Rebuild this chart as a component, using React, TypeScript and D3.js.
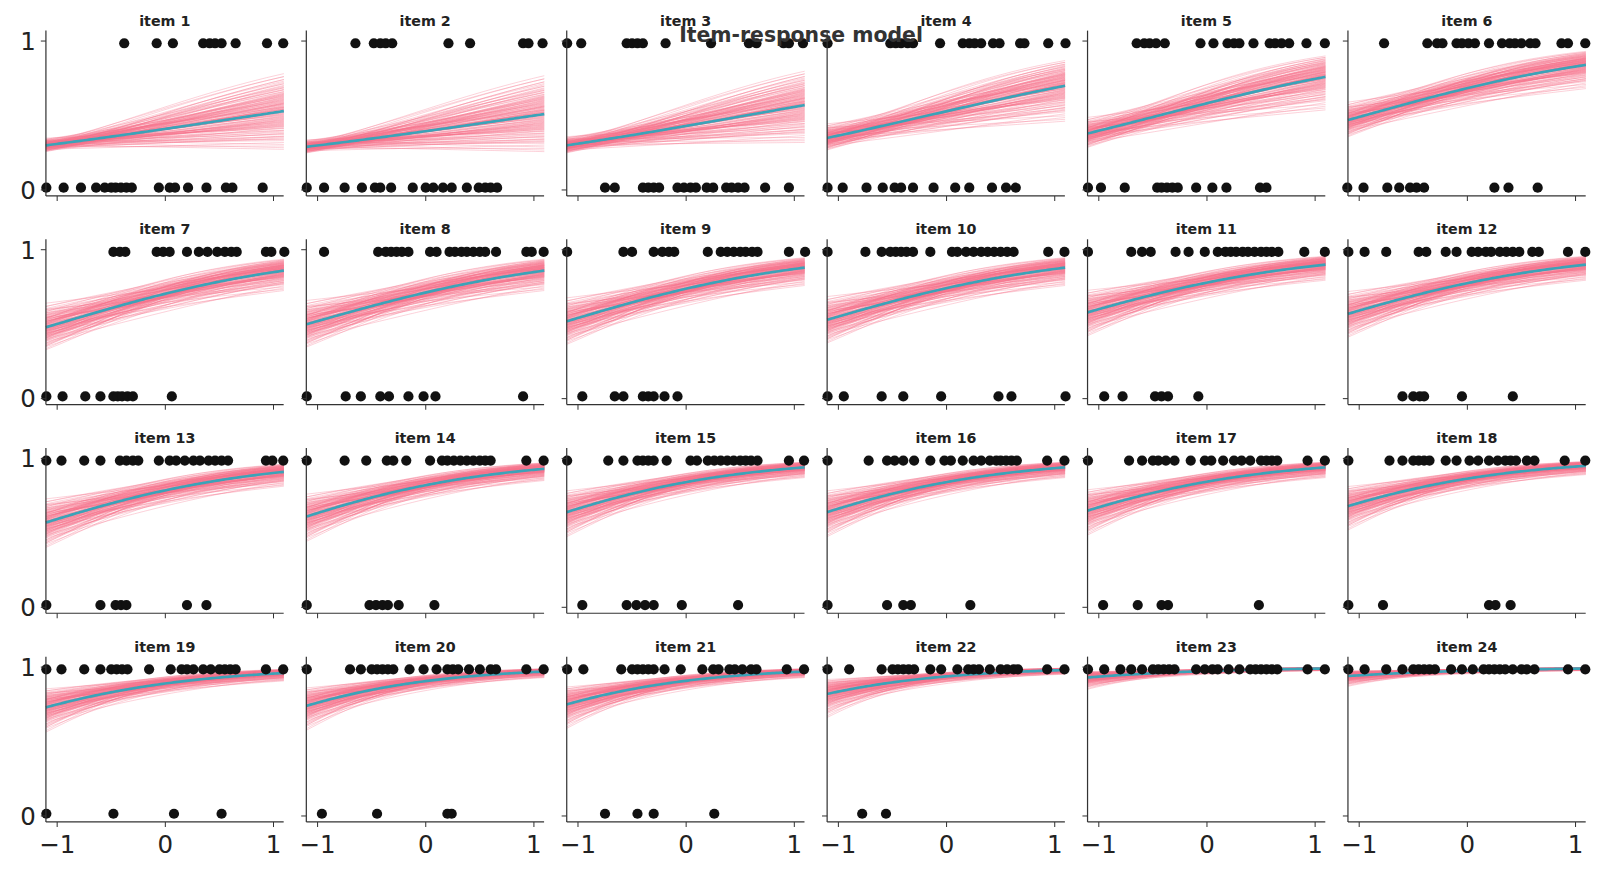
import React, { useEffect } from "react";
import * as d3 from "d3";

const itemNames = Array.from({ length: 24 }, (_, i) => `item ${i + 1}`);
// mean success probability at x=-1.1 and x=1.1, spread (logit sd) at left and right
const meanLeft = [.30,.29,.30,.35,.38,.47,.48,.50,.52,.53,.58,.57,.57,.61,.64,.64,.65,.68,.73,.74,.75,.82,.93,.94];
const meanRight = [.53,.51,.57,.70,.76,.84,.86,.86,.88,.88,.90,.90,.91,.93,.94,.94,.94,.95,.96,.97,.97,.98,.99,.99];
const sdLeft = [.1,.1,.12,.18,.2,.22,.3,.3,.3,.3,.3,.3,.32,.32,.32,.32,.32,.32,.35,.35,.35,.4,.4,.4];
const sdRight = [.55,.55,.52,.5,.5,.45,.42,.42,.42,.42,.42,.42,.42,.42,.42,.42,.42,.42,.45,.45,.45,.45,.45,.45];
// posterior draw offsets (standard scores)
const zL = [0.12,-0.85,1.4,-0.3,0.66,-1.7,0.05,0.9,-0.52,1.1,-1.2,0.33,-0.08,1.9,-0.7,0.45,-1.45,0.2,0.78,-0.2,-1.0,1.25,-0.4,0.55,-2.1,0.0,0.95,-0.62,1.6,-0.15,0.3,-1.1,0.7,-0.35,1.05,-0.9,0.15,-1.6,0.5,2.2,-0.45,0.85,-0.05,-1.3,1.3,0.4,-0.75,0.1,-0.25,0.6,1.7,-0.55,-1.8,0.25,0.8,-0.1,1.15,-0.95,0.35,-0.6];
const zR = [-0.6,0.4,1.2,-1.4,0.1,0.7,-0.25,-1.9,0.9,0.3,-0.8,1.6,-0.05,0.5,-1.1,1.0,0.2,-0.45,-1.5,0.65,1.35,-0.3,0.05,-0.95,0.8,1.9,-0.7,0.15,-0.2,-1.25,0.45,0.95,-0.55,1.45,-0.1,0.25,-2.0,0.6,-0.35,-0.85,1.1,0.0,0.75,-1.6,0.35,-0.15,1.7,-0.65,0.55,-1.05,0.2,0.85,-0.4,1.25,-1.3,0.1,-0.75,0.4,2.1,-0.5];
const ones: number[][] = [
[-0.38,-0.08,0.07,0.35,0.41,0.46,0.52,0.65,0.94,1.09],
[-0.65,-0.48,-0.42,-0.37,-0.31,0.21,0.41,0.90,0.95,1.08],
[-1.1,-0.97,-0.55,-0.5,-0.45,-0.4,-0.19,0.23,0.58,0.65,0.9,0.95,1.08],
[-1.1,-0.52,-0.47,-0.42,-0.36,-0.31,-0.06,0.15,0.21,0.26,0.32,0.43,0.49,0.68,0.72,0.94,1.1],
[-0.65,-0.58,-0.53,-0.47,-0.39,-0.06,0.06,0.19,0.25,0.3,0.43,0.58,0.63,0.69,0.76,0.92,1.09],
[-0.77,-0.37,-0.28,-0.23,-0.1,-0.05,0.01,0.07,0.2,0.32,0.39,0.44,0.5,0.58,0.63,0.87,0.93,1.09],
[-0.48,-0.42,-0.37,-0.08,-0.02,0.04,0.2,0.31,0.39,0.48,0.55,0.61,0.66,0.93,0.98,1.1],
[-0.94,-0.44,-0.37,-0.32,-0.27,-0.22,-0.16,0.04,0.1,0.22,0.27,0.33,0.38,0.44,0.5,0.55,0.65,0.93,0.98,1.09],
[-1.1,-0.58,-0.5,-0.3,-0.22,-0.16,-0.11,0.2,0.32,0.38,0.44,0.5,0.55,0.61,0.66,0.95,1.1],
[-1.1,-0.75,-0.6,-0.52,-0.47,-0.42,-0.37,-0.31,-0.15,0.05,0.1,0.18,0.25,0.32,0.38,0.44,0.5,0.56,0.62,0.94,1.09],
[-1.1,-0.7,-0.6,-0.52,-0.29,-0.17,-0.02,0.1,0.17,0.22,0.27,0.33,0.38,0.44,0.5,0.55,0.6,0.66,0.9,1.09],
[-1.1,-0.95,-0.75,-0.45,-0.38,-0.2,-0.1,0.04,0.1,0.17,0.22,0.3,0.36,0.42,0.48,0.6,0.66,0.93,1.09],
[-1.1,-0.96,-0.75,-0.6,-0.42,-0.36,-0.3,-0.25,-0.06,0.04,0.1,0.18,0.26,0.32,0.4,0.46,0.52,0.58,0.93,0.99,1.09],
[-1.1,-0.75,-0.55,-0.36,-0.3,-0.18,0.04,0.15,0.2,0.26,0.32,0.38,0.44,0.5,0.55,0.6,0.93,1.09],
[-1.1,-0.72,-0.58,-0.45,-0.4,-0.35,-0.3,-0.18,0.04,0.1,0.2,0.26,0.32,0.38,0.44,0.5,0.55,0.6,0.66,0.95,1.09],
[-1.1,-0.72,-0.55,-0.48,-0.4,-0.3,-0.15,-0.02,0.04,0.15,0.25,0.32,0.4,0.46,0.5,0.55,0.6,0.65,0.93,1.09],
[-1.1,-0.72,-0.6,-0.5,-0.45,-0.38,-0.3,-0.15,-0.02,0.04,0.15,0.25,0.32,0.4,0.5,0.55,0.6,0.65,0.93,1.09],
[-1.1,-0.72,-0.6,-0.5,-0.45,-0.4,-0.35,-0.2,-0.1,0.02,0.1,0.2,0.28,0.35,0.4,0.45,0.55,0.62,0.9,1.09],
[-1.1,-0.96,-0.75,-0.6,-0.5,-0.45,-0.4,-0.35,-0.15,0.05,0.15,0.2,0.26,0.35,0.42,0.5,0.55,0.6,0.65,0.93,1.09],
[-1.1,-0.7,-0.6,-0.5,-0.45,-0.4,-0.35,-0.3,-0.15,-0.02,0.1,0.2,0.25,0.3,0.4,0.5,0.6,0.65,0.93,1.09],
[-1.1,-0.95,-0.6,-0.5,-0.45,-0.4,-0.35,-0.3,-0.2,-0.05,0.15,0.25,0.3,0.4,0.45,0.52,0.6,0.65,0.93,1.09],
[-1.1,-0.9,-0.6,-0.5,-0.45,-0.4,-0.35,-0.3,-0.15,-0.05,0.1,0.2,0.25,0.3,0.4,0.5,0.56,0.62,0.66,0.93,1.09],
[-1.1,-0.95,-0.8,-0.7,-0.6,-0.5,-0.45,-0.4,-0.35,-0.3,-0.1,-0.02,0.05,0.1,0.2,0.3,0.4,0.45,0.5,0.55,0.6,0.65,0.93,1.09],
[-1.1,-0.95,-0.75,-0.6,-0.5,-0.45,-0.4,-0.35,-0.3,-0.15,-0.05,0.05,0.15,0.2,0.25,0.3,0.35,0.42,0.5,0.55,0.62,0.93,1.09],
];
const zeros: number[][] = [
[-1.10,-0.94,-0.78,-0.64,-0.56,-0.50,-0.46,-0.41,-0.36,-0.31,-0.06,0.04,0.09,0.21,0.38,0.56,0.62,0.90],
[-1.10,-0.94,-0.75,-0.59,-0.47,-0.42,-0.32,-0.12,0.0,0.07,0.16,0.24,0.38,0.49,0.55,0.60,0.66],
[-0.75,-0.66,-0.4,-0.35,-0.3,-0.25,-0.08,-0.02,0.04,0.09,0.19,0.25,0.37,0.42,0.48,0.54,0.73,0.95],
[-1.1,-0.96,-0.74,-0.59,-0.48,-0.42,-0.31,-0.12,0.08,0.21,0.42,0.55,0.64],
[-1.1,-0.98,-0.76,-0.46,-0.42,-0.37,-0.32,-0.27,-0.1,0.05,0.18,0.49,0.55],
[-1.11,-0.96,-0.74,-0.63,-0.53,-0.47,-0.4,0.25,0.38,0.65],
[-1.1,-0.95,-0.74,-0.6,-0.48,-0.44,-0.4,-0.35,-0.3,0.06],
[-1.1,-0.74,-0.6,-0.42,-0.34,-0.16,-0.02,0.09,0.9],
[-0.96,-0.66,-0.58,-0.4,-0.35,-0.3,-0.2,-0.08],
[-1.1,-0.95,-0.6,-0.4,-0.05,0.48,0.6,1.1],
[-0.95,-0.78,-0.48,-0.42,-0.36,-0.08],
[-0.6,-0.5,-0.44,-0.4,-0.05,0.42],
[-1.1,-0.6,-0.46,-0.41,-0.36,0.2,0.38],
[-1.1,-0.52,-0.46,-0.4,-0.35,-0.25,0.08],
[-0.96,-0.55,-0.46,-0.38,-0.3,-0.04,0.48],
[-1.1,-0.55,-0.4,-0.33,0.22],
[-0.96,-0.64,-0.42,-0.36,0.48],
[-1.1,-0.78,0.2,0.26,0.4],
[-1.1,-0.48,0.08,0.52],
[-0.96,-0.45,0.2,0.24],
[-0.75,-0.45,-0.3,0.26],
[-0.78,-0.56],
[],
[],
];
const xTicks = [-1, 0, 1];
const yTicks = [0, 1];

const logit = (p: number) => Math.log(p / (1 - p));
const sig = (v: number) => 1 / (1 + Math.exp(-v));

const colLeft = 45, colStep = 255.2, pw = 233;
const rowTop = 30, rowStep = 204.5, ph = 162;
const font = "DejaVu Sans, sans-serif";

function Panel({ i }: { i: number }) {
  const c = i % 6, r = Math.floor(i / 6);
  const x = d3.scaleLinear().domain([-1.104, 1.094]).range([0, pw]);
  const y = d3.scaleLinear().domain([-0.04, 1.07]).range([ph, 0]);
  const xs = d3.range(-1.104, 1.1, 0.02);
  const L = logit(meanLeft[i]), R = logit(meanRight[i]);
  const curve = (l: number, rr: number) =>
    d3.line<number>().x(v => x(v)).y(v => y(sig(l + (rr - l) * (v + 1.1) / 2.2)))(xs) || "";
  const n = zR.length;
  return (
    <g transform={`translate(${colLeft + c * colStep},${rowTop + r * rowStep})`}>
      {zL.map((z, k) => (
        <path key={k} d={curve(L + z * sdLeft[i], R + zR[k] * sdRight[i])} fill="none" stroke="#f77189" strokeOpacity={0.35} strokeWidth={0.9} />
      ))}
      {zL.map((z, k) => (
        <path key={"b" + k} d={curve(L - z * sdLeft[i] * 0.9, R + zR[n - 1 - k] * sdRight[i] * 0.9)} fill="none" stroke="#f77189" strokeOpacity={0.35} strokeWidth={0.9} />
      ))}
      <path d={curve(L, R)} fill="none" stroke="#3ba3b8" strokeWidth={2.6} />
      {ones[i].map((v, k) => <circle key={"o" + k} cx={x(v)} cy={y(0.985)} r={5} fill="#111" />)}
      {zeros[i].map((v, k) => <circle key={"z" + k} cx={x(v)} cy={y(0.015)} r={5} fill="#111" />)}
      <line x1={0} x2={0} y1={0} y2={ph} stroke="#333" strokeWidth={1.2} />
      <line x1={0} x2={pw} y1={ph} y2={ph} stroke="#333" strokeWidth={1.2} />
      {yTicks.map(t => (
        <g key={"y" + t}>
          <line x1={-5} x2={0} y1={y(t)} y2={y(t)} stroke="#333" />
          {c === 0 && <text x={-10} y={y(t)} dy="0.36em" textAnchor="end" fontSize={24} fontFamily={font} fill="#222">{t}</text>}
        </g>
      ))}
      {xTicks.map(t => (
        <g key={"x" + t}>
          <line x1={x(t)} x2={x(t)} y1={ph} y2={ph + 5} stroke="#333" />
          {r === 3 && <text x={x(t)} y={ph + 30} textAnchor="middle" fontSize={24} fontFamily={font} fill="#222">{t === -1 ? "−1" : t}</text>}
        </g>
      ))}
      <text x={pw / 2} y={-5} textAnchor="middle" fontSize={14} fontWeight="bold" fontFamily={font} fill="#222">{itemNames[i]}</text>
    </g>
  );
}

export default function App() {
  useEffect(() => {
    document.body.style.margin = "0";
    document.body.style.overflow = "hidden";
  }, []);
  return (
    <svg width={1600} height={880} style={{ display: "block", position: "absolute", left: 0, top: 0 }}>
      <rect width={1600} height={880} fill="#fff" />
      <g transform="scale(1.0204)">
        {itemNames.map((_, i) => <Panel key={i} i={i} />)}
        <text x={785} y={41} textAnchor="middle" fontSize={20} fontWeight="bold" fontFamily={font} fill="#333">Item-response model</text>
      </g>
    </svg>
  );
}
